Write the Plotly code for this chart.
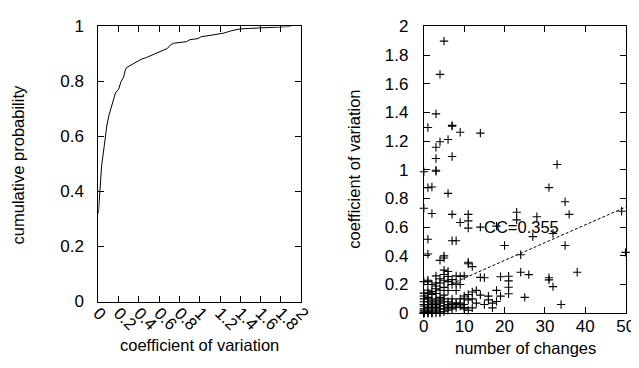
import plotly.graph_objects as go

# ---------------- data ----------------
# left panel: cumulative distribution of coefficient of variation
cdf_cv = [0, 0.016, 0.032, 0.057, 0.083, 0.105, 0.127, 0.153, 0.169, 0.2, 0.223,
          0.249, 0.265, 0.28, 0.328, 0.376, 0.424, 0.472, 0.536, 0.6, 0.648, 0.68,
          0.711, 0.743, 0.871, 0.903, 0.983, 1.015, 1.11, 1.237, 1.317, 1.397,
          1.49, 1.75, 1.9]
cdf_prob = [0.32, 0.414, 0.494, 0.563, 0.638, 0.678, 0.707, 0.747, 0.759, 0.772, 0.799,
            0.816, 0.841, 0.851, 0.862, 0.871, 0.881, 0.887, 0.897, 0.905, 0.914, 0.92,
            0.933, 0.939, 0.945, 0.952, 0.956, 0.963, 0.968, 0.976, 0.985, 0.991,
            0.993, 0.996, 1.0]

# right panel: number of changes vs coefficient of variation
changes = [
    0, 0, 0, 0, 0, 0, 0, 0, 0, 0, 0, 0, 0, 0, 0, 0,
    1, 1, 1, 1, 1, 1, 1, 1, 1, 1, 1, 1, 1, 1, 1, 1, 1,
    2, 2, 2, 2, 2, 2, 2, 2, 2, 2, 2, 2,
    3, 3, 3, 3, 3, 3, 3, 3, 3, 3, 3, 3, 3, 3, 3, 3,
    4, 4, 4, 4, 4, 4, 4, 4, 4, 4, 4, 4, 4,
    5, 5, 5, 5, 5, 5, 5, 5, 5, 5, 5, 5, 5,
    6, 6, 6, 6, 6, 6, 6, 6, 6, 6,
    7, 7, 7, 7, 7, 7, 7, 7, 7, 7, 7,
    8, 8, 8, 8, 8, 8, 8,
    9, 9, 9, 9, 9, 9, 9,
    10, 10, 10, 10, 10, 10,
    11, 11, 11, 11, 11, 11, 11, 11,
    12, 12, 12, 12,
    13, 13,
    14, 14, 14, 14,
    15, 15, 16, 16, 17, 17, 18, 18, 18, 19, 19, 20,
    21, 21, 21, 21, 23, 23, 24, 24, 25, 26, 27, 28,
    31, 31, 31, 32, 32, 33, 34, 35, 35, 36, 38, 49, 50,
]
cv = [
    0, 0, 0, 0, 0.01, 0.02, 0.03, 0.05, 0.06, 0.08, 0.1, 0.12, 0.14, 0.22, 0.732, 0.987,
    0, 0, 0.01, 0.02, 0.04, 0.06, 0.08, 0.1, 0.11, 0.14, 0.16, 0.22, 0.23, 0.413, 0.516, 0.876, 1.295,
    0, 0, 0.01, 0.03, 0.05, 0.07, 0.09, 0.13, 0.15, 0.2, 0.695, 0.88,
    0, 0.02, 0.04, 0.06, 0.08, 0.1, 0.137, 0.17, 0.19, 0.21, 0.26, 0.99, 0.997, 1.079, 1.157, 1.39,
    0, 0.01, 0.03, 0.05, 0.07, 0.09, 0.11, 0.16, 0.21, 0.24, 0.368, 1.196, 1.666,
    0.01, 0.03, 0.05, 0.08, 0.1, 0.126, 0.18, 0.23, 0.27, 0.3, 0.385, 0.40, 1.898,
    0.02, 0.04, 0.06, 0.08, 0.158, 0.22, 0.256, 0.291, 0.836, 1.212,
    0.03, 0.05, 0.07, 0.1, 0.2, 0.234, 0.505, 0.689, 1.093, 1.305, 1.31,
    0.04, 0.06, 0.07, 0.158, 0.21, 0.26, 0.505,
    0.05, 0.07, 0.1, 0.2, 0.256, 0.633, 1.262,
    0.03, 0.04, 0.06, 0.104, 0.12, 0.26,
    0.02, 0.093, 0.13, 0.345, 0.355, 0.593, 0.644, 0.689,
    0.037, 0.1, 0.148, 0.325,
    0.07, 0.159,
    0.126, 0.25, 0.6, 1.256,
    0.06, 0.247, 0.093, 0.119, 0.037, 0.07, 0.081, 0.159, 0.607, 0.119, 0.254, 0.472,
    0.136, 0.181, 0.225, 0.258, 0.651, 0.704, 0.285, 0.408, 0.11, 0.269, 0.534, 0.673,
    0.232, 0.247, 0.876, 0.185, 0.556, 1.037, 0.06, 0.472, 0.777, 0.689, 0.285, 0.711, 0.424,
]
assert len(changes) == len(cv)

fit_x = [0, 50]
fit_intercept = 0.12
fit_slope = 0.0124
cc_label = "CC=0.355"

left_xticks = [0, 0.2, 0.4, 0.6, 0.8, 1, 1.2, 1.4, 1.6, 1.8, 2]
left_xticktext = ["0", "0.2", "0.4", "0.6", "0.8", "1", "1.2", "1.4", "1.6", "1.8", "2"]
left_yticks = [0, 0.2, 0.4, 0.6, 0.8, 1]
left_yticktext = ["0", "0.2", "0.4", "0.6", "0.8", "1"]
right_xticks = [0, 10, 20, 30, 40, 50]
right_yticks = [0, 0.2, 0.4, 0.6, 0.8, 1, 1.2, 1.4, 1.6, 1.8, 2]
right_yticktext = ["0", "0.2", "0.4", "0.6", "0.8", "1", "1.2", "1.4", "1.6", "1.8", "2"]

# ---------------- figure ----------------
FONT = "Liberation Sans, Arial, Helvetica, sans-serif"
FS = 16.5
W, H = 639, 368

fig = go.Figure()

fig.add_trace(go.Scatter(x=cdf_cv, y=cdf_prob, mode="lines",
                         line=dict(color="black", width=1),
                         xaxis="x", yaxis="y", showlegend=False))

fig.add_trace(go.Scatter(x=changes, y=cv, mode="markers",
                         marker=dict(symbol="cross-thin", size=6,
                                     line=dict(color="black", width=1.1)),
                         cliponaxis=False,
                         xaxis="x2", yaxis="y2", showlegend=False))

fig.add_trace(go.Scatter(x=fit_x, y=[fit_intercept + fit_slope * v for v in fit_x],
                         mode="lines",
                         line=dict(color="black", width=1, dash="3px,2px"),
                         xaxis="x2", yaxis="y2", showlegend=False))

axis_common = dict(showline=True, linecolor="black", linewidth=1, mirror="ticks",
                   ticks="inside", ticklen=6, tickwidth=1, tickcolor="black",
                   showgrid=False, zeroline=False,
                   tickfont=dict(family=FONT, size=17, color="black"))

fig.update_layout(
    width=W, height=H,
    margin=dict(l=0, r=0, t=0, b=0),
    paper_bgcolor="white", plot_bgcolor="white",
    font=dict(family=FONT, size=FS, color="black"),
    xaxis=dict(domain=[84 / W, 293.3 / W], range=[0, 2], tickmode="array",
               tickvals=left_xticks, ticktext=left_xticktext, tickangle=45,
               anchor="y", ticklabelstandoff=-6, **axis_common),
    yaxis=dict(domain=[(H - 300) / H, (H - 10) / H], range=[0, 1], tickmode="array",
               tickvals=left_yticks, ticktext=left_yticktext,
               anchor="x", ticklabelstandoff=10, **axis_common),
    xaxis2=dict(domain=[420 / W, 628.3 / W], range=[0, 50], tickmode="array",
                tickvals=right_xticks, anchor="y2", ticklabelstandoff=-3, **axis_common),
    yaxis2=dict(domain=[(H - 312.3) / H, (H - 10) / H], range=[0, 2], tickmode="array",
                tickvals=right_yticks, ticktext=right_yticktext,
                anchor="x2", ticklabelstandoff=11, **axis_common),
)

ann_font = dict(family=FONT, size=FS, color="black")
fig.add_annotation(text="cumulative probability", xref="paper", yref="paper",
                   x=2 / W, y=1 - 155.5 / H, textangle=-90, showarrow=False,
                   xanchor="center", yanchor="middle", font=ann_font)
fig.add_annotation(text="coefficient of variation", xref="paper", yref="paper",
                   x=188 / W, y=1 - 346 / H, showarrow=False,
                   xanchor="center", yanchor="middle", font=ann_font)
fig.add_annotation(text="number of changes", xref="paper", yref="paper",
                   x=524.5 / W, y=1 - 348.5 / H, showarrow=False,
                   xanchor="center", yanchor="middle", font=ann_font)
fig.add_annotation(text="coefficient of variation", xref="paper", yref="paper",
                   x=348 / W, y=1 - 161 / H, textangle=-90, showarrow=False,
                   xanchor="center", yanchor="middle", font=ann_font)
fig.add_annotation(text=cc_label, xref="x2", yref="y2", x=14.6, y=0.6,
                   showarrow=False, xanchor="left", yanchor="middle",
                   borderpad=0, font=ann_font)

fig.write_html("out.html")
